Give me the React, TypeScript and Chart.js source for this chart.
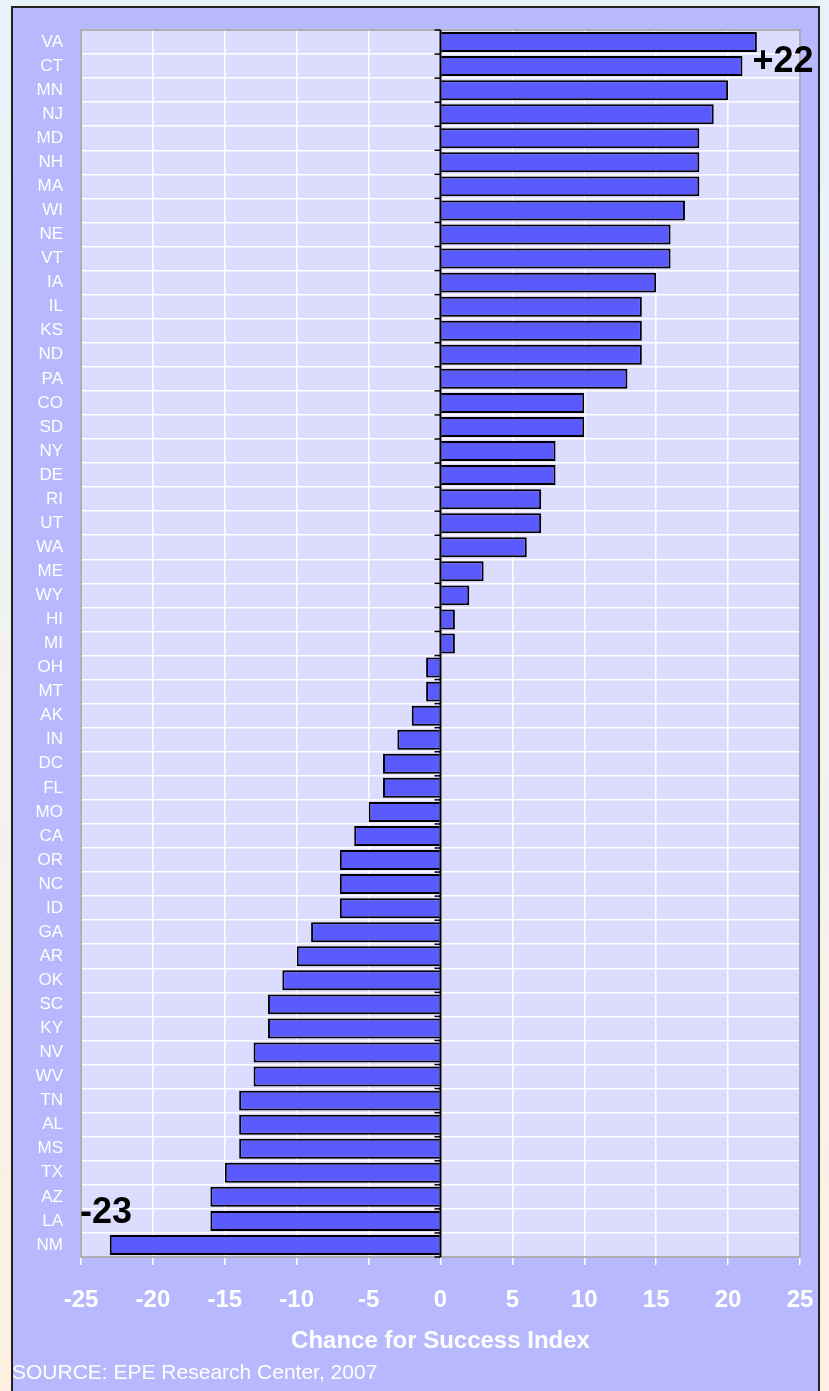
import React, { useEffect, useRef } from "react";
import { Chart, registerables } from "chart.js";
Chart.register(...registerables);

const states = ["VA","CT","MN","NJ","MD","NH","MA","WI","NE","VT","IA","IL","KS","ND","PA","CO","SD","NY","DE","RI","UT","WA","ME","WY","HI","MI","OH","MT","AK","IN","DC","FL","MO","CA","OR","NC","ID","GA","AR","OK","SC","KY","NV","WV","TN","AL","MS","TX","AZ","LA","NM"];
const values = [22,21,20,19,18,18,18,17,16,16,15,14,14,14,13,10,10,8,8,7,7,6,3,2,1,1,-1,-1,-2,-3,-4,-4,-5,-6,-7,-7,-7,-9,-10,-11,-12,-12,-13,-13,-14,-14,-14,-15,-16,-16,-23];
const xMin = -25;
const xMax = 25;
const xStep = 5;
const axisTitle = "Chance for Success Index";
const sourceText = "SOURCE: EPE Research Center, 2007";
const maxLabel = "+22";
const minLabel = "-23";

const FONT = "'Liberation Sans', Arial, sans-serif";

export default function App() {
  const ref = useRef<HTMLCanvasElement | null>(null);
  useEffect(() => {
    document.body.style.margin = "0";
    const canvas = ref.current!;
    const bgPlugin = {
      id: "bg",
      beforeDraw(chart: any) {
        const { ctx, chartArea: a, width, height } = chart;
        ctx.save();
        const g = ctx.createLinearGradient(0, 0, 0, height);
        g.addColorStop(0, "#e6f3f8");
        g.addColorStop(0.5, "#f2f2f0");
        g.addColorStop(1, "#fdf0e0");
        ctx.fillStyle = g;
        ctx.fillRect(0, 0, width, height);
        ctx.fillStyle = "#b8b8ff";
        ctx.fillRect(12, 7, 807, height);
        ctx.strokeStyle = "#222";
        ctx.lineWidth = 2;
        ctx.strokeRect(12, 7, 807, height + 10);
        ctx.fillStyle = "#dcdcff";
        ctx.fillRect(a.left, a.top, a.right - a.left, a.bottom - a.top);
        ctx.restore();
      },
      afterDraw(chart: any) {
        const { ctx, chartArea: a, scales } = chart;
        const xs = scales.x, ys = scales.y;
        ctx.save();
        ctx.strokeStyle = "#999";
        ctx.lineWidth = 1.5;
        ctx.strokeRect(a.left, a.top, a.right - a.left, a.bottom - a.top);
        const x0 = xs.getPixelForValue(0);
        ctx.strokeStyle = "#000";
        ctx.lineWidth = 1.5;
        const step = (a.bottom - a.top) / states.length;
        for (let i = 0; i <= states.length; i++) {
          const yy = a.top + i * step;
          ctx.beginPath();
          ctx.moveTo(x0 - 6, yy);
          ctx.lineTo(x0, yy);
          ctx.stroke();
        }
        ctx.lineWidth = 2;
        ctx.beginPath();
        ctx.moveTo(x0, a.top);
        ctx.lineTo(x0, a.bottom);
        ctx.stroke();
        ctx.fillStyle = "#ffffff";
        ctx.font = `bold 24px ${FONT}`;
        ctx.textAlign = "center";
        ctx.textBaseline = "middle";
        ctx.fillText(axisTitle, (a.left + a.right) / 2, a.bottom + 84);
        ctx.font = `21px ${FONT}`;
        ctx.textAlign = "left";
        ctx.fillText(sourceText, 12, a.bottom + 116);
        ctx.fillStyle = "#000";
        ctx.font = `bold 36px ${FONT}`;
        ctx.textBaseline = "alphabetic";
        ctx.textAlign = "left";
        const iMax = values.indexOf(Math.max(...values));
        const iMin = values.indexOf(Math.min(...values));
        ctx.fillText(maxLabel, xs.getPixelForValue(values[iMax + 1]) + 10, ys.getPixelForValue(iMax + 1) + 6);
        ctx.fillText(minLabel, a.left - 1, ys.getPixelForValue(iMin - 1) + 2);
        ctx.restore();
      },
    };
    const chart = new Chart(canvas, {
      type: "bar",
      data: {
        labels: states,
        datasets: [
          {
            data: values,
            backgroundColor: "#5a5aff",
            borderColor: "#000",
            borderWidth: 2,
            barPercentage: 0.83,
            categoryPercentage: 1,
          },
        ],
      },
      options: {
        indexAxis: "y",
        responsive: false,
        animation: false,
        devicePixelRatio: 1,
        layout: { padding: { left: 0, top: 30, right: 29, bottom: 0 } },
        plugins: { legend: { display: false }, tooltip: { enabled: false } },
        scales: {
          x: {
            type: "linear",
            min: xMin,
            max: xMax,
            afterFit(scale: any) {
              scale.height = 134;
              scale.paddingLeft = 0;
              scale.paddingRight = 0;
            },
            ticks: {
              stepSize: xStep,
              color: "#ffffff",
              font: { family: FONT, size: 24, weight: "bold" },
              padding: 21,
            },
            grid: { color: "#ffffff", lineWidth: 1.5, tickLength: 8, drawOnChartArea: true },
            border: { display: false },
          },
          y: {
            type: "category",
            afterFit(scale: any) { scale.width = 81; },
            ticks: {
              color: "#ffffff",
              font: { family: FONT, size: 17 },
              padding: 18,
              autoSkip: false,
            },
            grid: { color: "#ffffff", lineWidth: 1.5, drawTicks: false, offset: true },
            border: { display: false },
          },
        },
      },
      plugins: [bgPlugin],
    });
    return () => chart.destroy();
  }, []);
  return <canvas ref={ref} width={829} height={1391} style={{ display: "block", width: 829, height: 1391 }} />;
}
